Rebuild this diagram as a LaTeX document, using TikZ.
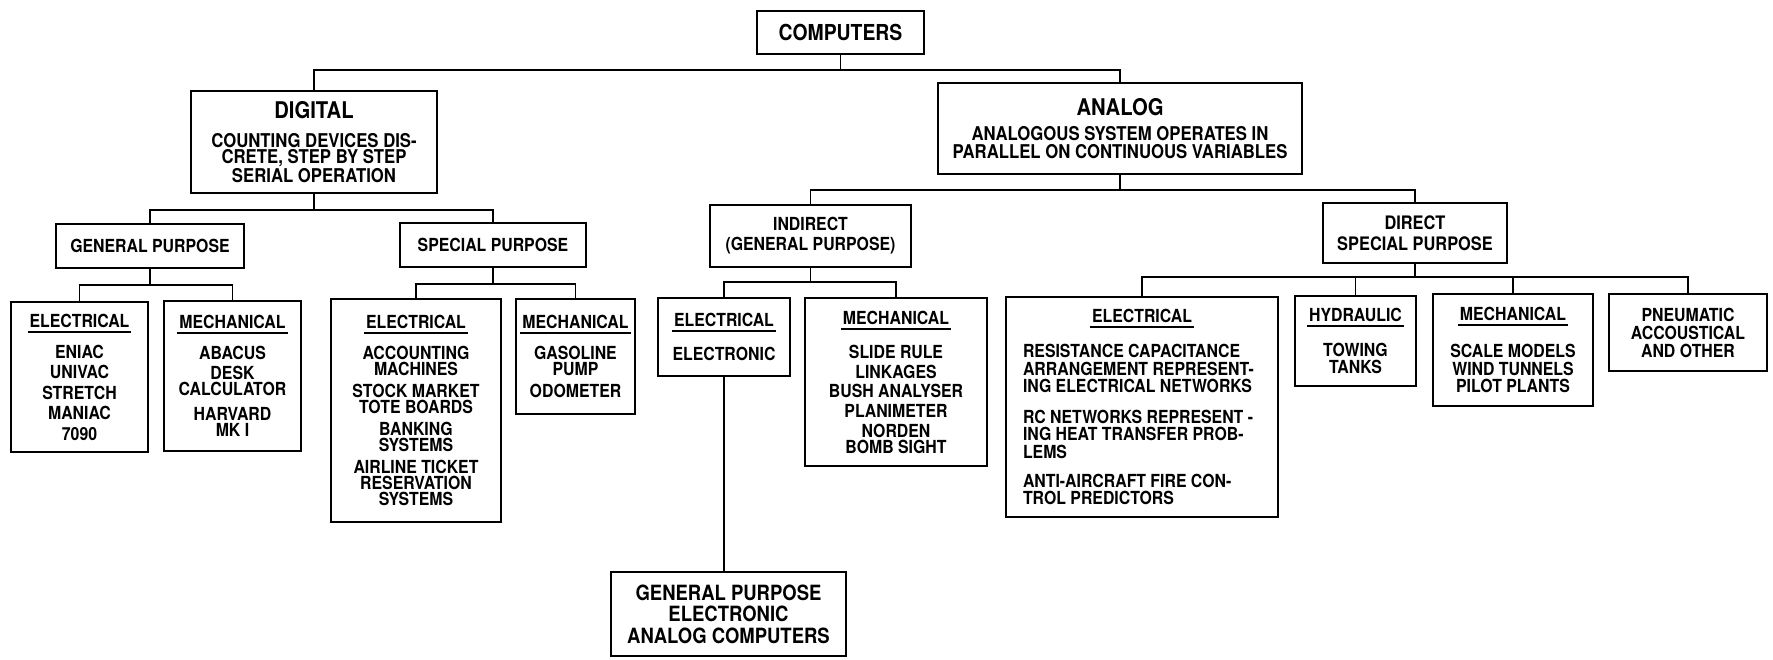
\documentclass[tikz,border=0pt]{standalone}
\usepackage{fontspec}
\setmainfont{TeX Gyre Heros}[FakeStretch=0.88]
\usepackage{tikz}

% underlined heading and left-set body line
\newsavebox{\hdrbox}
\newcommand{\hdr}[1]{\sbox{\hdrbox}{\kern1pt#1\kern1pt}\rlap{\smash{\raisebox{-2.8pt}{\rule{\wd\hdrbox}{1pt}}}}\usebox{\hdrbox}}
\newcommand{\ltext}[1]{\makebox[119pt][l]{#1}}

\begin{document}
\begin{tikzpicture}[
    x=0.5pt, y=-0.5pt,
    box/.style={draw, line width=1.4pt, inner sep=1pt, align=center, font=\fontsize{9}{8}\selectfont\bfseries},
    title/.style={box, font=\fontsize{11.5}{13}\selectfont\bfseries},
    link/.style={line width=0.9pt}
]
\useasboundingbox (0,0) rectangle (1773,659);

% Top level
\node[title, minimum width=83.5pt, minimum height=21.5pt, font=\fontsize{11}{13}\selectfont\bfseries] (computers) at (840.5,32.5) {COMPUTERS};

% Digital / Analog
\node[box, minimum width=123pt, minimum height=51pt, font=\fontsize{9.5}{8}\selectfont\bfseries] (digital) at (314,142)
    {{\fontsize{11.5}{13}\selectfont DIGITAL}\\[6.5pt] COUNTING DEVICES DIS-\\ CRETE, STEP BY STEP\\ SERIAL OPERATION};
\node[box, minimum width=182pt, minimum height=45.5pt, font=\fontsize{9.5}{9}\selectfont\bfseries] (analog) at (1120,128.5)
    {{\fontsize{11.5}{13}\selectfont ANALOG}\\[3.5pt] ANALOGOUS SYSTEM OPERATES IN\\ PARALLEL ON CONTINUOUS VARIABLES};

% Second level
\node[box, minimum width=94pt, minimum height=22pt] (dgen) at (150,246) {GENERAL PURPOSE};
\node[box, minimum width=93pt, minimum height=22pt] (dspec) at (493,245) {SPECIAL PURPOSE};
\node[box, minimum width=100.5pt, minimum height=31pt, font=\fontsize{9}{10}\selectfont\bfseries] (indirect) at (810.5,236) {INDIRECT\\ (GENERAL PURPOSE)};
\node[box, minimum width=92pt, minimum height=30pt, font=\fontsize{9.3}{10.5}\selectfont\bfseries] (direct) at (1415,233) {DIRECT\\ SPECIAL PURPOSE};

% Digital leaves
\node[box, minimum width=68.5pt, minimum height=75pt] (dig_el) at (79.5,377)
    {\hdr{ELECTRICAL}\\[7.5pt] ENIAC\\[2.25pt] UNIVAC\\[2.25pt] STRETCH\\[2.25pt] MANIAC\\[2.25pt] 7090};
\node[box, minimum width=68.5pt, minimum height=75pt] (dig_mech) at (232.5,376)
    {\hdr{MECHANICAL}\\[7.5pt] ABACUS\\[2pt] DESK\\ CALCULATOR\\[4.5pt] HARVARD\\ MK I};
\node[box, minimum width=85pt, minimum height=111.5pt] (spec_el) at (416,410.5)
    {\hdr{ELECTRICAL}\\[7.5pt] ACCOUNTING\\ MACHINES\\[3pt] STOCK MARKET\\ TOTE BOARDS\\[3pt] BANKING\\ SYSTEMS\\[3pt] AIRLINE TICKET\\ RESERVATION\\ SYSTEMS};
\node[box, minimum width=59.5pt, minimum height=57.5pt, inner sep=0pt] (spec_mech) at (575.5,356.5)
    {\hdr{MECHANICAL}\\[7.5pt] GASOLINE\\ PUMP\\[3pt] ODOMETER};

% Indirect leaves
\node[box, minimum width=66pt, minimum height=39pt] (ind_el) at (724,337) {\hdr{ELECTRICAL}\\[9pt] ELECTRONIC};
\node[box, minimum width=91pt, minimum height=84pt] (ind_mech) at (896,382)
    {\hdr{MECHANICAL}\\[9pt] SLIDE RULE\\[2pt] LINKAGES\\[1.5pt] BUSH ANALYSER\\[2pt] PLANIMETER\\[2pt] NORDEN\\ BOMB SIGHT};
\node[box, minimum width=117.5pt, minimum height=42pt, font=\fontsize{10.5}{10.75}\selectfont\bfseries] (gpea) at (728.5,614)
    {GENERAL PURPOSE\\ ELECTRONIC\\ ANALOG COMPUTERS};

% Direct leaves
\node[box, minimum width=136pt, minimum height=110pt, font=\fontsize{9}{8.75}\selectfont\bfseries] (dir_el) at (1142,407)
    {\hdr{ELECTRICAL}\\[8.75pt]
     \ltext{RESISTANCE CAPACITANCE}\\ \ltext{ARRANGEMENT REPRESENT-}\\ \ltext{ING ELECTRICAL NETWORKS}\\[6.5pt]
     \ltext{RC NETWORKS REPRESENT -}\\ \ltext{ING HEAT TRANSFER PROB-}\\ \ltext{LEMS}\\[5.75pt]
     \ltext{ANTI-AIRCRAFT FIRE CON-}\\ \ltext{TROL PREDICTORS}};
\node[box, minimum width=60.5pt, minimum height=45pt, font=\fontsize{9}{8.5}\selectfont\bfseries] (hydr) at (1355.5,341)
    {\hdr{HYDRAULIC}\\[9pt] TOWING\\ TANKS};
\node[box, minimum width=80pt, minimum height=56pt, font=\fontsize{9}{8.75}\selectfont\bfseries] (dir_mech) at (1513,350)
    {\hdr{MECHANICAL}\\[10pt] SCALE MODELS\\ WIND TUNNELS\\ PILOT PLANTS};
\node[box, minimum width=79pt, minimum height=38.5pt, font=\fontsize{9}{9}\selectfont\bfseries] (pneu) at (1688,332.5)
    {PNEUMATIC\\ ACCOUSTICAL\\ AND OTHER};

% Bus lines
\coordinate (bus_top) at (0,70);
\coordinate (bus_dig) at (0,210);
\coordinate (bus_ana) at (0,190);
\coordinate (bus_dgen) at (0,285);
\coordinate (bus_dspec) at (0,284);
\coordinate (bus_ind) at (0,282);
\coordinate (bus_dir) at (0,277);

% Computers
\draw[link] (computers.south) -- (computers.south |- bus_top);
\draw[link] (digital.north) |- (analog.north |- bus_top) -- (analog.north);

% Digital
\draw[link] (digital.south) -- (digital.south |- bus_dig);
\draw[link] (dgen.north) |- (dspec.north |- bus_dig) -- (dspec.north);
\draw[link] (dgen.south) -- (dgen.south |- bus_dgen);
\draw[link] (dig_el.north) |- (dig_mech.north |- bus_dgen) -- (dig_mech.north);
\draw[link] (dspec.south) -- (dspec.south |- bus_dspec);
\draw[link] (spec_el.north) |- (spec_mech.north |- bus_dspec) -- (spec_mech.north);

% Analog
\draw[link] (analog.south) -- (analog.south |- bus_ana);
\draw[link] (indirect.north) |- (direct.north |- bus_ana) -- (direct.north);
\draw[link] (indirect.south) -- (indirect.south |- bus_ind);
\draw[link] (ind_el.north) |- (ind_mech.north |- bus_ind) -- (ind_mech.north);
\draw[link] (ind_el.south) -- (ind_el.south |- gpea.north);
\draw[link] (direct.south) -- (direct.south |- bus_dir);
\draw[link] (dir_el.north) |- (pneu.north |- bus_dir) -- (pneu.north);
\draw[link] (hydr.north) -- (hydr.north |- bus_dir);
\draw[link] (dir_mech.north) -- (dir_mech.north |- bus_dir);

\end{tikzpicture}
\end{document}
